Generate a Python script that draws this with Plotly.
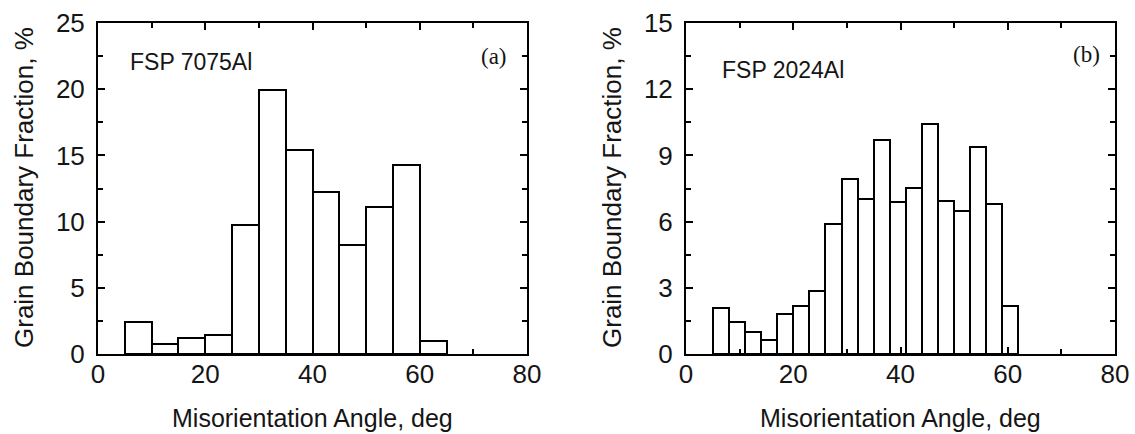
import plotly.graph_objects as go

# Panel (a): FSP 7075Al, 5-degree bins
a_left_edges = [5, 10, 15, 20, 25, 30, 35, 40, 45, 50, 55, 60]
a_width = 5
a_values = [2.4, 0.75, 1.2, 1.45, 9.75, 19.95, 15.4, 12.2, 8.2, 11.1, 14.3, 1.0]

# Panel (b): FSP 2024Al, 3-degree bins
b_left_edges = [5, 8, 11, 14, 17, 20, 23, 26, 29, 32, 35, 38, 41, 44, 47, 50, 53, 56, 59]
b_width = 3
b_values = [2.07, 1.47, 1.01, 0.64, 1.81, 2.18, 2.86, 5.88, 7.92, 7.02, 9.71, 6.91,
            7.52, 10.42, 6.94, 6.5, 9.36, 6.79, 2.19]

x_ticks = [0, 20, 40, 60, 80]
a_y_ticks = [0, 5, 10, 15, 20, 25]
b_y_ticks = [0, 3, 6, 9, 12, 15]

x_title = "Misorientation Angle, deg"
y_title = "Grain Boundary Fraction, %"

W, H = 1135, 434
fig = go.Figure()

fig.add_trace(go.Bar(
    x=[e + a_width / 2 for e in a_left_edges], y=a_values, width=a_width,
    marker=dict(color="white", line=dict(color="black", width=2)),
    xaxis="x", yaxis="y", showlegend=False))
fig.add_trace(go.Bar(
    x=[e + b_width / 2 for e in b_left_edges], y=b_values, width=b_width,
    marker=dict(color="white", line=dict(color="black", width=2)),
    xaxis="x2", yaxis="y2", showlegend=False))

SANS = "Liberation Sans, Arial, sans-serif"
SERIF = "Liberation Serif, Times New Roman, serif"
INK = "#151515"
tickfont = dict(family=SANS, size=26, color=INK)
titlefont = dict(family=SANS, size=25, color=INK)

def xax(domain, anchor):
    return dict(domain=domain, anchor=anchor, range=[0, 80], tickvals=x_ticks,
                ticks="inside", ticklen=7, tickwidth=1.5, tickcolor="black",
                minor=dict(ticks="inside", ticklen=5, dtick=10, tick0=0, tickcolor="black", tickwidth=1.5),
                showline=True, linecolor="black", linewidth=2, mirror="allticks",
                showgrid=False, zeroline=False, tickfont=tickfont,
                ticklabelstandoff=-4, automargin=False)

def yax(domain, anchor, rng, ticks, minor_dtick):
    return dict(domain=domain, anchor=anchor, range=rng, tickvals=ticks,
                ticks="inside", ticklen=7, tickwidth=1.5, tickcolor="black",
                minor=dict(ticks="inside", ticklen=5, dtick=minor_dtick, tick0=0, tickcolor="black", tickwidth=1.5),
                showline=True, linecolor="black", linewidth=2, mirror="allticks",
                showgrid=False, zeroline=False, tickfont=tickfont,
                ticklabelstandoff=6, automargin=False)

ydom = [1 - 354 / H, 1 - 23 / H]
xdom_a = [98 / W, 527 / W]
xdom_b = [686 / W, 1115 / W]
fig.update_layout(
    width=W, height=H, margin=dict(l=0, r=0, t=0, b=0),
    paper_bgcolor="white", plot_bgcolor="white", bargap=0,
    xaxis=xax(xdom_a, "y"),
    yaxis=yax(ydom, "x", [0, 25], a_y_ticks, 2.5),
    xaxis2=xax(xdom_b, "y2"),
    yaxis2=yax(ydom, "x2", [0, 15], b_y_ticks, 1.5),
)

# Axis titles
for xd, ytx in [(xdom_a, 24), (xdom_b, 612)]:
    fig.add_annotation(x=(xd[0] + xd[1]) / 2, y=1 - 418 / H, xref="paper", yref="paper",
                       text=x_title, showarrow=False, xanchor="center", yanchor="middle",
                       font=titlefont)
    fig.add_annotation(x=ytx / W, y=1 - 188 / H, xref="paper", yref="paper",
                       text=y_title, showarrow=False, xanchor="center", yanchor="middle",
                       textangle=-90, font=dict(family=SANS, size=26, color=INK))

# Panel labels
fig.add_annotation(x=128 / W, y=1 - 62 / H, xref="paper", yref="paper", text="FSP 7075Al",
                   showarrow=False, xanchor="left", yanchor="middle",
                   font=dict(family=SANS, size=23, color=INK))
fig.add_annotation(x=509 / W, y=1 - 56 / H, xref="paper", yref="paper", text="(a)",
                   showarrow=False, xanchor="right", yanchor="middle",
                   font=dict(family=SERIF, size=23, color=INK))
fig.add_annotation(x=720 / W, y=1 - 70 / H, xref="paper", yref="paper", text="FSP 2024Al",
                   showarrow=False, xanchor="left", yanchor="middle",
                   font=dict(family=SANS, size=23, color=INK))
fig.add_annotation(x=1102 / W, y=1 - 54 / H, xref="paper", yref="paper", text="(b)",
                   showarrow=False, xanchor="right", yanchor="middle",
                   font=dict(family=SERIF, size=23, color=INK))

fig.write_html("out.html", config={"displayModeBar": False},
               post_script="document.body.style.margin='0';document.body.style.overflow='hidden';")
